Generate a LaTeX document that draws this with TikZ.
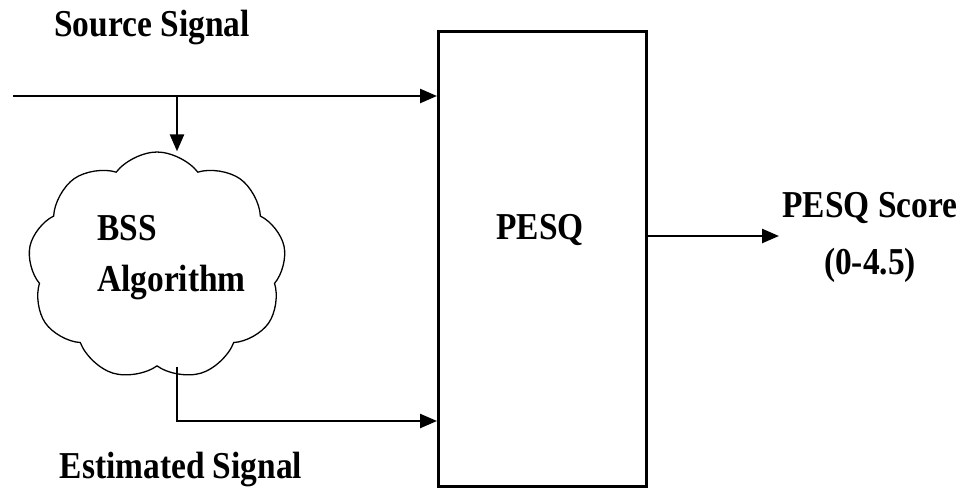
\documentclass[tikz,border=0pt]{standalone}
\usepackage{fontspec}
\setmainfont{Liberation Serif}[FakeStretch=0.88]
\usetikzlibrary{arrows.meta,shapes.symbols}

\tikzset{
  txt/.style={font=\bfseries\fontsize{38}{52}\selectfont, inner sep=0pt},
  wire/.style={line width=2.5pt},
  arr/.style={wire, -{Triangle[length=17pt,width=14pt]}},
}

\begin{document}
\begin{tikzpicture}[x=1pt,y=-1pt]
\useasboundingbox (0,0) rectangle (963,493);

% main PESQ block
\node[draw, line width=3pt, minimum width=208pt, minimum height=455pt,
      anchor=north west] (pesq) at (437,30) {};
\node[txt] (pesqtxt) at (540,230) {PESQ};

% BSS algorithm cloud
\node[cloud, draw, line width=1.3pt, cloud puffs=9, cloud puff arc=105,
      minimum width=258pt, minimum height=228pt, inner sep=0pt] (bss) at (157,266) {};
\node[txt, align=left, anchor=west, font=\bfseries\fontsize{38}{51}\selectfont]
      (bsstxt) at (97,258) {BSS\\Algorithm};

% signal routing
\coordinate (src) at (13,96);
\coordinate (split) at (177,96);
\coordinate (estlevel) at (177,421);
\coordinate (scoretip) at (779,236);

\draw[arr] (src) -- (pesq.west |- src);
\draw[arr] (split) -- (split |- bss.north);
\draw[arr] (split |- bss.south) -- (estlevel) -- (pesq.west |- estlevel);
\draw[arr] (pesq.east |- scoretip) -- (scoretip);

% labels
\node[txt] (srclab) at (152,28) {Source Signal};
\node[txt] (estlab) at (181,470) {Estimated Signal};
\node[txt, align=center, font=\bfseries\fontsize{38}{57}\selectfont]
      (score) at (870,237) {PESQ Score\\(0-4.5)};
\end{tikzpicture}
\end{document}
